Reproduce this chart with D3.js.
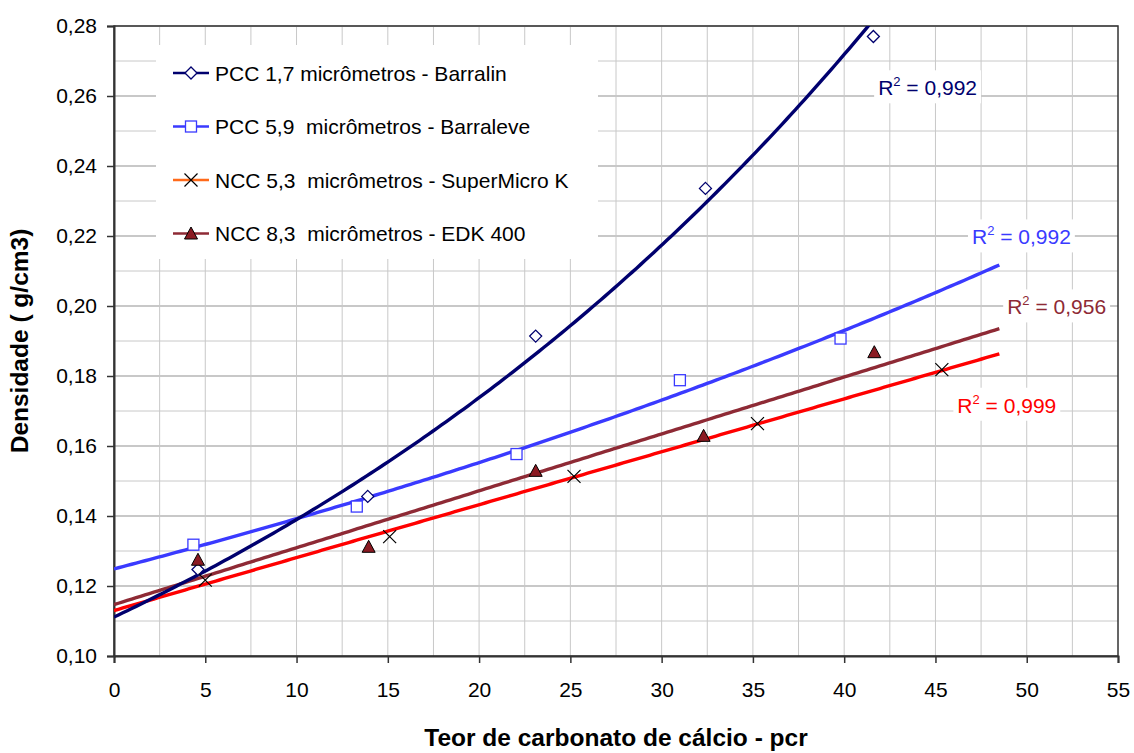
<!DOCTYPE html>
<html>
<head>
<meta charset="utf-8">
<script src="https://cdn.jsdelivr.net/npm/d3@7/dist/d3.min.js"></script>
<style>
  html, body { margin: 0; padding: 0; background: #fff; }
  svg { display: block; font-family: "Liberation Sans", Arial, sans-serif; }
</style>
</head>
<body>
<svg id="chart"></svg>
<script>
"use strict";

// dados
var seriesNames = [
    "PCC 1,7 micrômetros - Barralin",
    "PCC 5,9  micrômetros - Barraleve",
    "NCC 5,3  micrômetros - SuperMicro K",
    "NCC 8,3  micrômetros - EDK 400"
];
var barralinX = [4.6, 13.9, 23.1, 32.4, 41.6];
var barralinY = [0.1247, 0.1456, 0.1914, 0.2336, 0.2770];
var barraleveX = [4.35, 13.3, 22.05, 31.0, 39.8];
var barraleveY = [0.1318, 0.1427, 0.1577, 0.1788, 0.1907];
var superMicroX = [5.0, 15.1, 25.2, 35.25, 45.35];
var superMicroY = [0.1217, 0.1341, 0.1513, 0.1664, 0.1818];
var edkX = [4.6, 13.95, 23.1, 32.3, 41.65];
var edkY = [0.1275, 0.1312, 0.1529, 0.1629, 0.1868];
var r2Values = ["0,992", "0,992", "0,999", "0,956"];
var trendTypes = ["exp", "exp", "linear", "linear"];
var xTickValues = [0, 5, 10, 15, 20, 25, 30, 35, 40, 45, 50, 55];
var yTickValues = [0.10, 0.12, 0.14, 0.16, 0.18, 0.20, 0.22, 0.24, 0.26, 0.28];

var W = 1134, H = 753;
var margin = { left: 114, right: 16, top: 26, bottom: 97 };
var iWidth = W - margin.left - margin.right;
var iHeight = H - margin.top - margin.bottom;
var trendEnd = 48.5;

var colors = ["#00006e", "#3a3aff", "#ff0000", "#8e2a35"];

var svg = d3.select("#chart").attr("width", W).attr("height", H);

var xScale = d3.scaleLinear().domain([0, 55]).range([0, iWidth]);
var yScale = d3.scaleLinear().domain([0.10, 0.28]).range([iHeight, 0]);

var chart = svg.append("g")
    .attr("transform", `translate(${margin.left}, ${margin.top})`);

chart.append("clipPath").attr("id", "plotClip")
    .append("rect").attr("width", iWidth).attr("height", iHeight);

// grade
var minorX = d3.range(2.5, 55, 2.5);
var minorY = d3.range(0.11, 0.28, 0.01);

chart.append("g").selectAll("line")
    .data(minorX)
    .enter().append("line")
    .attr("x1", d => xScale(d)).attr("x2", d => xScale(d))
    .attr("y1", 0).attr("y2", iHeight)
    .attr("stroke", "#c8c8c8").attr("stroke-width", 1);

chart.append("g").selectAll("line")
    .data(minorY)
    .enter().append("line")
    .attr("x1", 0).attr("x2", iWidth)
    .attr("y1", d => yScale(d)).attr("y2", d => yScale(d))
    .attr("stroke", "#c8c8c8")
    .attr("stroke-width", (d, i) => i % 2 === 1 ? 1.8 : 1);

// moldura
chart.append("rect")
    .attr("width", iWidth).attr("height", iHeight)
    .attr("fill", "none").attr("stroke", "#333").attr("stroke-width", 1.5);

// eixos
var fmtY = d => d3.format(".2f")(d).replace(".", ",");

var gy = chart.append("g")
    .call(d3.axisLeft(yScale).tickValues(yTickValues).tickFormat(fmtY).tickSize(7).tickPadding(10));
var gx = chart.append("g")
    .attr("transform", `translate(0, ${iHeight})`)
    .call(d3.axisBottom(xScale).tickValues(xTickValues).tickFormat(d3.format("d")).tickSize(7).tickPadding(19));

[gx, gy].forEach(function(g) {
    g.select(".domain").attr("stroke", "#333").attr("stroke-width", 2);
    g.selectAll(".tick line").attr("stroke", "#333").attr("stroke-width", 1.5);
    g.selectAll(".tick text")
        .attr("fill", "#000")
        .style("font-size", "21px")
        .style("font-family", "'Liberation Sans', Arial, sans-serif");
});

// linhas de tendência (ajuste calculado a partir dos pontos)
function fitLinear(xs, ys) {
    var mx = d3.mean(xs), my = d3.mean(ys);
    var sxy = d3.sum(xs, (x, i) => (x - mx) * (ys[i] - my));
    var sxx = d3.sum(xs, x => (x - mx) * (x - mx));
    var b = sxy / sxx;
    return { a: my - b * mx, b: b };
}

function trendFn(type, xs, ys) {
    if (type === "exp") {
        var f = fitLinear(xs, ys.map(Math.log));
        return x => Math.exp(f.a) * Math.exp(f.b * x);
    }
    var l = fitLinear(xs, ys);
    return x => l.a + l.b * x;
}

var allX = [barralinX, barraleveX, superMicroX, edkX];
var allY = [barralinY, barraleveY, superMicroY, edkY];

var line = d3.line().x(d => xScale(d[0])).y(d => yScale(d[1]));
var samples = d3.range(0, 201).map(i => trendEnd * i / 200);

var trendLayer = chart.append("g").attr("clip-path", "url(#plotClip)");
[3, 2, 1, 0].forEach(function(s) {
    var fn = trendFn(trendTypes[s], allX[s], allY[s]);
    trendLayer.append("path")
        .datum(samples.map(x => [x, fn(x)]))
        .attr("d", line)
        .attr("fill", "none")
        .attr("stroke", colors[s])
        .attr("stroke-width", 3.4);
});

// marcadores
function drawMarker(g, s, cx, cy) {
    if (s === 0) {
        g.append("path")
            .attr("d", `M${cx},${cy - 6}L${cx + 6},${cy}L${cx},${cy + 6}L${cx - 6},${cy}Z`)
            .attr("fill", "#fff").attr("stroke", "#00006e").attr("stroke-width", 1.3);
    } else if (s === 1) {
        g.append("rect")
            .attr("x", cx - 5.5).attr("y", cy - 5.5).attr("width", 11).attr("height", 11)
            .attr("fill", "#fff").attr("stroke", "#3a3aff").attr("stroke-width", 1.3);
    } else if (s === 2) {
        g.append("path")
            .attr("d", `M${cx - 6.5},${cy - 6.5}L${cx + 6.5},${cy + 6.5}M${cx - 6.5},${cy + 6.5}L${cx + 6.5},${cy - 6.5}`)
            .attr("stroke", "#000").attr("stroke-width", 1.2);
    } else {
        g.append("path")
            .attr("d", `M${cx},${cy - 6.5}L${cx + 6.5},${cy + 5.5}L${cx - 6.5},${cy + 5.5}Z`)
            .attr("fill", "#8b1a22").attr("stroke", "#000").attr("stroke-width", 1);
    }
}

var markerLayer = chart.append("g");
[0, 1, 2, 3].forEach(function(s) {
    allX[s].forEach(function(x, i) {
        drawMarker(markerLayer, s, xScale(x), yScale(allY[s][i]));
    });
});

// rótulos R²
var r2Pos = [[41.86, 0.2602], [47.0, 0.2176], [46.2, 0.1695], [48.93, 0.1976]];
r2Values.forEach(function(v, s) {
    var g = chart.append("g");
    var t = g.append("text")
        .attr("x", xScale(r2Pos[s][0])).attr("y", yScale(r2Pos[s][1]))
        .attr("fill", colors[s])
        .style("font-size", "21px");
    t.append("tspan").text("R");
    t.append("tspan").attr("dy", -9).style("font-size", "13px").text("2");
    t.append("tspan").attr("dy", 9).text(" = " + v);
    var bb = t.node().getBBox();
    g.insert("rect", "text")
        .attr("x", bb.x - 4).attr("y", bb.y - 4)
        .attr("width", bb.width + 8).attr("height", bb.height + 8)
        .attr("fill", "#fff");
});

// legenda
var legend = svg.append("g");
legend.append("rect")
    .attr("x", 156).attr("y", 45).attr("width", 442).attr("height", 214)
    .attr("fill", "#fff");
var legendLine = ["#00006e", "#3a3aff", "#ff6a1a", "#8e2a35"];
seriesNames.forEach(function(name, s) {
    var cy = 73 + s * 53.5;
    legend.append("line")
        .attr("x1", 173).attr("x2", 209).attr("y1", cy).attr("y2", cy)
        .attr("stroke", legendLine[s]).attr("stroke-width", 2.5);
    drawMarker(legend, s, 191, cy);
    legend.append("text")
        .attr("x", 215).attr("y", cy + 7.5)
        .style("font-size", "21px")
        .style("white-space", "pre")
        .text(name);
});

// títulos dos eixos
svg.append("text")
    .attr("x", margin.left + iWidth / 2).attr("y", 746)
    .attr("text-anchor", "middle")
    .style("font-size", "24.5px").style("font-weight", "bold")
    .text("Teor de carbonato de cálcio - pcr");

svg.append("text")
    .attr("transform", `translate(28, ${margin.top + iHeight / 2}) rotate(-90)`)
    .attr("text-anchor", "middle")
    .style("font-size", "24.5px").style("font-weight", "bold")
    .text("Densidade ( g/cm3)");
</script>
</body>
</html>
